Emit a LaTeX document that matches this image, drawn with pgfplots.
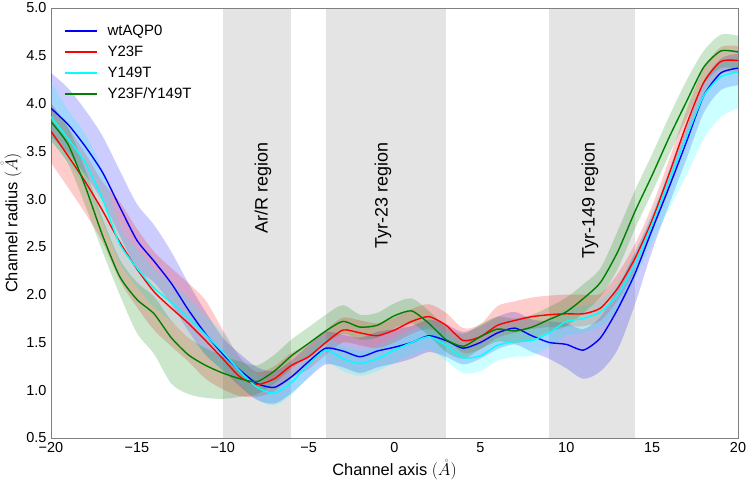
\documentclass[border=0pt]{standalone}
\usepackage{fontspec}
\setmainfont{Liberation Sans}
\usepackage{pgfplots}
\pgfplotsset{compat=1.18}
\usepackage{pgfplotstable}
\usepgfplotslibrary{fillbetween}
\usetikzlibrary{calc}
\definecolor{regiongray}{RGB}{228,228,228}
\definecolor{framegray}{RGB}{128,128,128}
\definecolor{dgreen}{RGB}{0,128,0}
\definecolor{cyanc}{RGB}{0,255,255}

\pgfplotstableread{
x m lo hi
-20 3.95 3.65 4.32
-19 3.78 3.48 4.16
-18 3.55 3.25 3.93
-17 3.28 2.98 3.66
-16 2.92 2.62 3.30
-15 2.57 2.27 2.95
-14 2.35 2.13 2.73
-13 2.12 1.90 2.45
-12 1.84 1.62 2.12
-11 1.59 1.37 1.82
-10 1.38 1.21 1.55
-9 1.21 1.04 1.38
-8 1.07 0.90 1.24
-7 1.03 0.86 1.20
-6 1.14 0.97 1.31
-5 1.30 1.13 1.47
-4 1.44 1.27 1.61
-3 1.41 1.24 1.58
-2 1.35 1.18 1.55
-1 1.41 1.24 1.61
0 1.45 1.28 1.64
1 1.50 1.33 1.67
2 1.57 1.40 1.74
3 1.52 1.35 1.69
4 1.44 1.27 1.61
5 1.50 1.33 1.67
6 1.60 1.43 1.77
7 1.65 1.48 1.82
8 1.57 1.40 1.74
9 1.50 1.33 1.72
10 1.48 1.23 1.70
11 1.42 1.12 1.64
12 1.55 1.20 1.77
13 1.85 1.43 2.07
14 2.22 1.90 2.44
15 2.68 2.46 2.83
16 3.13 2.95 3.28
17 3.60 3.42 3.75
18 4.08 3.90 4.23
19 4.32 4.14 4.47
20 4.37 4.19 4.52
}\wt

\pgfplotstableread{
x m lo hi
-20 3.71 3.38 4.01
-19 3.45 3.12 3.75
-18 3.18 2.85 3.48
-17 2.88 2.55 3.18
-16 2.55 2.15 2.97
-15 2.27 1.87 2.69
-14 2.03 1.63 2.45
-13 1.86 1.46 2.28
-12 1.70 1.30 2.12
-11 1.52 1.12 1.94
-10 1.33 1.01 1.63
-9 1.14 0.94 1.34
-8 1.06 0.93 1.19
-7 1.12 0.99 1.25
-6 1.26 1.13 1.39
-5 1.35 1.22 1.48
-4 1.50 1.37 1.63
-3 1.63 1.50 1.76
-2 1.60 1.47 1.73
-1 1.57 1.44 1.70
0 1.63 1.50 1.76
1 1.72 1.59 1.85
2 1.77 1.64 1.90
3 1.68 1.55 1.81
4 1.52 1.39 1.65
5 1.56 1.43 1.69
6 1.68 1.55 1.88
7 1.73 1.60 1.93
8 1.77 1.64 1.97
9 1.79 1.66 1.99
10 1.80 1.67 2.00
11 1.80 1.67 2.00
12 1.86 1.73 2.01
13 2.07 1.94 2.22
14 2.38 2.25 2.53
15 2.78 2.65 2.93
16 3.27 3.14 3.42
17 3.78 3.65 3.93
18 4.22 4.09 4.37
19 4.44 4.31 4.59
20 4.45 4.32 4.60
}\yf

\pgfplotstableread{
x m lo hi
-20 3.86 3.61 4.23
-19 3.63 3.38 3.93
-18 3.38 3.13 3.68
-17 3.00 2.75 3.30
-16 2.53 2.33 2.73
-15 2.28 2.08 2.48
-14 2.07 1.87 2.27
-13 1.92 1.72 2.12
-12 1.76 1.56 1.96
-11 1.58 1.38 1.78
-10 1.40 1.20 1.60
-9 1.20 1.07 1.33
-8 1.03 0.90 1.16
-7 0.97 0.84 1.10
-6 1.08 0.95 1.21
-5 1.27 1.14 1.40
-4 1.42 1.29 1.55
-3 1.33 1.20 1.46
-2 1.28 1.15 1.41
-1 1.33 1.20 1.46
0 1.42 1.29 1.55
1 1.50 1.37 1.63
2 1.56 1.43 1.69
3 1.47 1.31 1.60
4 1.34 1.18 1.47
5 1.36 1.20 1.49
6 1.47 1.31 1.60
7 1.51 1.35 1.64
8 1.52 1.36 1.65
9 1.60 1.45 1.73
10 1.72 1.57 1.85
11 1.75 1.60 1.88
12 1.82 1.67 1.95
13 2.00 1.85 2.13
14 2.32 2.17 2.45
15 2.74 2.54 2.87
16 3.20 2.90 3.33
17 3.65 3.25 3.78
18 4.08 3.63 4.21
19 4.28 3.86 4.41
20 4.33 3.95 4.46
}\yt

\pgfplotstableread{
x m lo hi
-20 3.81 3.61 3.99
-19 3.57 3.37 3.75
-18 3.13 2.93 3.31
-17 2.62 2.45 2.80
-16 2.19 2.00 2.37
-15 1.95 1.60 2.13
-14 1.80 1.38 1.98
-13 1.55 1.07 1.73
-12 1.37 0.96 1.55
-11 1.26 0.92 1.44
-10 1.18 0.91 1.36
-9 1.12 0.93 1.30
-8 1.09 0.96 1.26
-7 1.20 1.07 1.37
-6 1.36 1.23 1.53
-5 1.49 1.36 1.66
-4 1.62 1.49 1.79
-3 1.72 1.59 1.89
-2 1.66 1.53 1.79
-1 1.68 1.55 1.81
0 1.78 1.65 1.91
1 1.83 1.70 1.96
2 1.70 1.57 1.83
3 1.53 1.40 1.66
4 1.46 1.33 1.59
5 1.56 1.43 1.69
6 1.64 1.51 1.77
7 1.62 1.49 1.75
8 1.66 1.53 1.79
9 1.74 1.61 1.87
10 1.82 1.67 1.97
11 1.96 1.81 2.11
12 2.13 1.98 2.28
13 2.45 2.27 2.67
14 2.87 2.69 3.09
15 3.25 3.07 3.47
16 3.65 3.47 3.87
17 4.02 3.84 4.24
18 4.38 4.20 4.55
19 4.55 4.37 4.72
20 4.54 4.36 4.71
}\dm

\begin{document}
\begin{tikzpicture}
\begin{axis}[
  set layers,
  scale only axis, width=687bp, height=430bp,
  xmin=-20, xmax=20, ymin=0.5, ymax=5,
  xtick={-20,-15,-10,-5,0,5,10,15,20},
  xticklabels={−20,−15,−10,−5,0,5,10,15,20},
  ytick={0.5,1.0,1.5,2.0,2.5,3.0,3.5,4.0,4.5,5.0},
  yticklabels={0.5,1.0,1.5,2.0,2.5,3.0,3.5,4.0,4.5,5.0},
  major tick length=0pt,
  axis line style={framegray, line width=0.9bp},
  tick label style={font=\fontsize{14.5}{16}\selectfont},
  xticklabel style={yshift=-1bp},
  yticklabel style={xshift=-1bp},
  label style={font=\fontsize{16.5}{18}\selectfont},
  xlabel={Channel axis $(\mathring{A})$},
  ylabel={Channel radius $(\mathring{A})$},
  xlabel style={yshift=0bp},
  ylabel style={yshift=-2bp},
  legend style={at={(0,1)}, anchor=north west, xshift=10bp, yshift=-14bp,
    draw=none, fill=none, font=\fontsize{15}{17}\selectfont, row sep=7bp,
    column sep=9bp, nodes={inner sep=1bp}},
  legend cell align=left,
  legend image code/.code={\draw[#1, line width=1.4bp] (0bp,0bp) -- (32bp,0bp);},
]
% shaded regions
\addplot[fill=regiongray, draw=none, forget plot, on layer=axis background] coordinates {(-10,0.5) (-10,5) (-6,5) (-6,0.5)} -- cycle;
\addplot[fill=regiongray, draw=none, forget plot, on layer=axis background] coordinates {(-4,0.5) (-4,5) (3,5) (3,0.5)} -- cycle;
\addplot[fill=regiongray, draw=none, forget plot, on layer=axis background] coordinates {(9,0.5) (9,5) (14,5) (14,0.5)} -- cycle;

% bands
\addplot[name path=wtlo, draw=none, forget plot, smooth] table[x=x,y=lo]{\wt};
\addplot[name path=wthi, draw=none, forget plot, smooth] table[x=x,y=hi]{\wt};
\addplot[fill=blue, fill opacity=0.2, draw=none, forget plot] fill between[of=wthi and wtlo];
\addplot[name path=yflo, draw=none, forget plot, smooth] table[x=x,y=lo]{\yf};
\addplot[name path=yfhi, draw=none, forget plot, smooth] table[x=x,y=hi]{\yf};
\addplot[fill=red, fill opacity=0.2, draw=none, forget plot] fill between[of=yfhi and yflo];
\addplot[name path=ytlo, draw=none, forget plot, smooth] table[x=x,y=lo]{\yt};
\addplot[name path=ythi, draw=none, forget plot, smooth] table[x=x,y=hi]{\yt};
\addplot[fill=cyanc, fill opacity=0.2, draw=none, forget plot] fill between[of=ythi and ytlo];
\addplot[name path=dmlo, draw=none, forget plot, smooth] table[x=x,y=lo]{\dm};
\addplot[name path=dmhi, draw=none, forget plot, smooth] table[x=x,y=hi]{\dm};
\addplot[fill=dgreen, fill opacity=0.2, draw=none, forget plot] fill between[of=dmhi and dmlo];

% mean lines
\addplot[blue, line width=1.4bp, no marks, smooth, tension=0.4] table[x=x,y=m]{\wt};
\addlegendentry{wtAQP0}
\addplot[red, line width=1.4bp, no marks, smooth, tension=0.4] table[x=x,y=m]{\yf};
\addlegendentry{Y23F}
\addplot[cyanc, line width=1.4bp, no marks, smooth, tension=0.4] table[x=x,y=m]{\yt};
\addlegendentry{Y149T}
\addplot[dgreen, line width=1.4bp, no marks, smooth, tension=0.4] table[x=x,y=m]{\dm};
\addlegendentry{Y23F/Y149T}

\node[rotate=90, anchor=east, font=\fontsize{18}{20}\selectfont] at (axis cs:-7.66,3.63) {Ar/R region};
\node[rotate=90, anchor=east, font=\fontsize{18}{20}\selectfont] at (axis cs:-0.67,3.63) {Tyr-23 region};
\node[rotate=90, anchor=east, font=\fontsize{18}{20}\selectfont] at (axis cs:11.38,3.63) {Tyr-149 region};
\end{axis}
\pgfresetboundingbox
\path ($(current axis.south west)+(-51bp,-44bp)$) rectangle ($(current axis.north east)+(9bp,8bp)$);
\end{tikzpicture}
\end{document}
